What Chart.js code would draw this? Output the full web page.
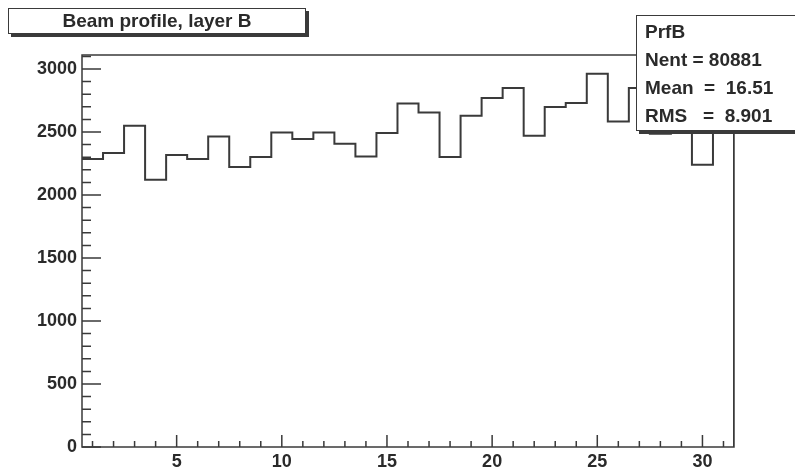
<!DOCTYPE html>
<html>
<head>
<meta charset="utf-8">
<script src="https://cdn.jsdelivr.net/npm/chart.js@4/dist/chart.umd.min.js"></script>
<style>
body { margin: 0; background: #fff; }
#wrap { position: relative; width: 795px; height: 469px; overflow: hidden; }
#chart { position: absolute; left: 0; top: 0; }
.box { position: absolute; background: #fff; border: 1.5px solid #3a3a3a; box-shadow: 3px 3px 0 #3a3a3a;
       font-family: "Liberation Sans", Arial, sans-serif; font-weight: bold; color: #2a2a2a; }
#title { left: 8px; top: 8px; width: 296px; height: 24px; font-size: 19px; line-height: 24px; text-align: center; }
#stats { left: 636px; top: 15px; width: 170px; height: 112px; font-size: 19px; line-height: 28px;
         white-space: pre; padding: 2px 0 0 8px; }
</style>
</head>
<body>
<div id="wrap">
  <canvas id="chart" width="795" height="469"></canvas>
  <div class="box" id="title">Beam profile, layer B</div>
  <div class="box" id="stats">PrfB
Nent = 80881
Mean  =  16.51
RMS   =  8.901</div>
</div>
<script>
/* =======================
   DATA
======================= */
const binCenters = [1, 2, 3, 4, 5, 6, 7, 8, 9, 10, 11, 12, 13, 14, 15, 16,
                    17, 18, 19, 20, 21, 22, 23, 24, 25, 26, 27, 28, 29, 30, 31];
const counts = [2285, 2333, 2550, 2121, 2317, 2285, 2465, 2222, 2301, 2496, 2444,
                2496, 2407, 2306, 2492, 2727, 2655, 2301, 2629, 2770, 2849, 2470,
                2698, 2730, 2963, 2584, 2849, 2486, 2700, 2240, 2750];
const xTicks = [5, 10, 15, 20, 25, 30];
const yTicks = [0, 500, 1000, 1500, 2000, 2500, 3000];
const yMax = 3111;

const binWidth = 1;

/* step outline: one point per left bin edge, then close at the right edge */
const points = counts.map((c, i) => ({ x: binCenters[i] - binWidth / 2, y: c }));
const last = binCenters.length - 1;
points.push({ x: binCenters[last] + binWidth / 2, y: counts[last] });
points.push({ x: binCenters[last] + binWidth / 2, y: 0 });

const labelFont = { family: "'Liberation Sans', Arial, sans-serif", size: 18, weight: 'bold' };

/* =======================
   ROOT STYLE FRAME + INWARD TICKS
======================= */
const rootFrame = {
    id: 'rootFrame',
    afterDatasetsDraw(chart) {
        const { ctx, chartArea: a, scales: { x, y } } = chart;
        ctx.save();
        ctx.strokeStyle = '#3a3a3a';
        ctx.lineWidth = 1.5;
        ctx.strokeRect(a.left, a.top, a.right - a.left, a.bottom - a.top);

        ctx.beginPath();
        for (let v = 1; v <= 31; v++) {
            const px = x.getPixelForValue(v);
            const len = v % 5 === 0 ? 12 : 6;
            ctx.moveTo(px, a.bottom);
            ctx.lineTo(px, a.bottom - len);
        }
        for (let v = 0; v <= yMax; v += 100) {
            const py = y.getPixelForValue(v);
            const len = v % 500 === 0 ? 19 : 9;
            ctx.moveTo(a.left, py);
            ctx.lineTo(a.left + len, py);
        }
        ctx.stroke();
        ctx.restore();
    }
};

new Chart(document.getElementById('chart'), {
    type: 'line',
    data: {
        datasets: [{
            data: points,
            stepped: 'before',
            borderColor: '#3a3a3a',
            borderWidth: 2,
            pointRadius: 0,
            fill: false
        }]
    },
    options: {
        responsive: false,
        animation: false,
        devicePixelRatio: 1,
        layout: { padding: { top: 55, right: 61, left: 0, bottom: 0 } },
        plugins: { legend: { display: false }, tooltip: { enabled: false } },
        scales: {
            x: {
                type: 'linear',
                min: 0.5,
                max: 31.5,
                grid: { display: false, drawTicks: false },
                border: { display: false },
                afterBuildTicks: s => { s.ticks = xTicks.map(v => ({ value: v })); },
                afterFit: s => { s.height = 22; },
                ticks: { padding: 4, font: labelFont, color: '#2a2a2a', autoSkip: false, maxRotation: 0,
                         callback: v => String(v) }
            },
            y: {
                min: 0,
                max: yMax,
                grid: { display: false, drawTicks: false },
                border: { display: false },
                afterBuildTicks: s => { s.ticks = yTicks.map(v => ({ value: v })); },
                afterFit: s => { s.width = 82; },
                ticks: { padding: 5, font: labelFont, color: '#2a2a2a', autoSkip: false,
                         callback: v => String(v) }
            }
        }
    },
    plugins: [rootFrame]
});
</script>
</body>
</html>
